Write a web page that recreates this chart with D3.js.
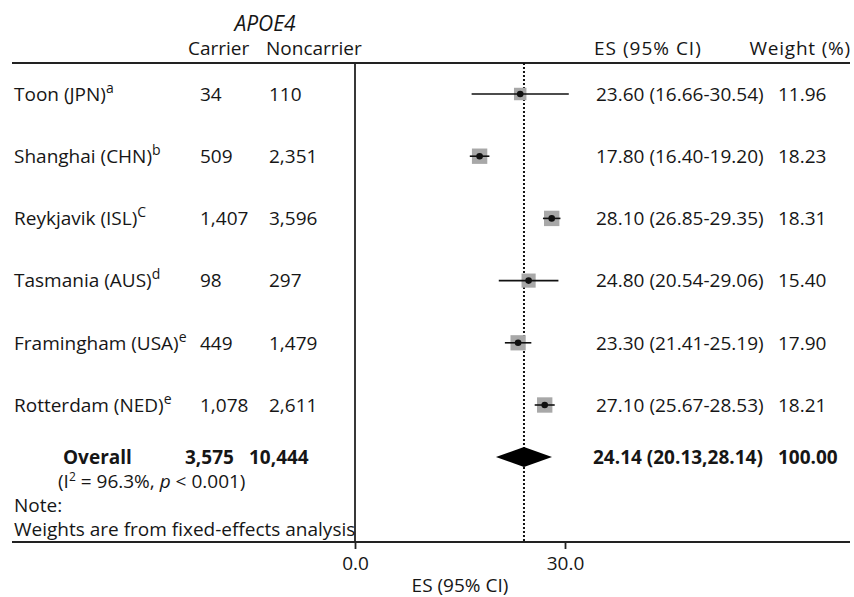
<!DOCTYPE html>
<html>
<head>
<meta charset="utf-8">
<script src="https://cdn.jsdelivr.net/npm/d3@7"></script>
<style>
  body { margin: 0; background: #fff; }
  svg text { font-family: "Open Sans", "Noto Sans", sans-serif; fill: #161616; }
</style>
</head>
<body>
<div id="chart"></div>
<script>
// -----------------------------
// Data
// -----------------------------
const studies = ["Toon (JPN)", "Shanghai (CHN)", "Reykjavik (ISL)", "Tasmania (AUS)", "Framingham (USA)", "Rotterdam (NED)"];
const notes = ["a", "b", "C", "d", "e", "e"];
const carriers = ["34", "509", "1,407", "98", "449", "1,078"];
const noncarriers = ["110", "2,351", "3,596", "297", "1,479", "2,611"];
const es = [23.60, 17.80, 28.10, 24.80, 23.30, 27.10];
const lower = [16.66, 16.40, 26.85, 20.54, 21.41, 25.67];
const upper = [30.54, 19.20, 29.35, 29.06, 25.19, 28.53];
const weights = [11.96, 18.23, 18.31, 15.40, 17.90, 18.21];
const overall = { es: 24.14, lo: 20.13, hi: 28.14, carrier: "3,575", noncarrier: "10,444", weight: "100.00" };
const xTicks = [0, 30];

const width = 854, height = 597;
const fs = "19px";
const svg = d3.select("#chart").append("svg")
  .attr("width", width)
  .attr("height", height);

// -----------------------------
// Scales
// -----------------------------
const x = d3.scaleLinear().domain([0, 30]).range([355, 565]);
const y = d3.scaleLinear().domain([0, 5]).range([94, 405]);
const yOverall = 457;
const topY = 63, bottomY = 542;
const side = d3.scaleSqrt().domain([0, 20]).range([0, 16.1]);

// -----------------------------
// Header
// -----------------------------
svg.append("text").attr("x", 265).attr("y", 31).attr("text-anchor", "middle")
  .style("font-style", "italic").style("font-size", "21px").text("APOE4");
svg.append("text").attr("x", 188).attr("y", 55).style("font-size", fs).text("Carrier");
svg.append("text").attr("x", 266).attr("y", 55).style("font-size", fs).text("Noncarrier");
svg.append("text").attr("x", 594).attr("y", 55).style("font-size", fs).style("letter-spacing", "1px").text("ES (95% CI)");
svg.append("text").attr("x", 851).attr("y", 55).attr("text-anchor", "end").style("font-size", fs)
  .style("letter-spacing", "0.8px").text("Weight (%)");

svg.append("line").attr("x1", 12).attr("x2", 850).attr("y1", topY).attr("y2", topY)
  .attr("stroke", "#222").attr("stroke-width", 1.8);

// -----------------------------
// Axis
// -----------------------------
const axis = svg.append("g").attr("transform", `translate(0,${bottomY})`)
  .call(d3.axisBottom(x).tickValues(xTicks).tickFormat(d3.format(".1f")).tickSize(7).tickSizeOuter(0));
axis.select(".domain").remove();
axis.selectAll(".tick line").attr("stroke", "#222").attr("stroke-width", 1.8);
axis.selectAll(".tick text").attr("y", 15).style("font-size", fs)
  .style("font-family", "'Open Sans', sans-serif").attr("fill", "#161616");
svg.append("line").attr("x1", 12).attr("x2", 850).attr("y1", bottomY).attr("y2", bottomY)
  .attr("stroke", "#222").attr("stroke-width", 1.8);
svg.append("text").attr("x", (x(0) + x(30)) / 2).attr("y", 592).attr("text-anchor", "middle")
  .style("font-size", fs).text("ES (95% CI)");

// null line (x = 0)
svg.append("line").attr("x1", x(0)).attr("x2", x(0)).attr("y1", topY).attr("y2", bottomY)
  .attr("stroke", "#222").attr("stroke-width", 1.8);

// overall dotted line
svg.append("line").attr("x1", x(overall.es)).attr("x2", x(overall.es)).attr("y1", topY).attr("y2", bottomY)
  .attr("stroke", "#111").attr("stroke-width", 2).attr("stroke-dasharray", "2,2");

// -----------------------------
// Study rows
// -----------------------------
const rows = studies.map((s, i) => ({ s, i, note: notes[i], c: carriers[i], n: noncarriers[i],
  es: es[i], lo: lower[i], hi: upper[i], w: weights[i] }));

const row = svg.selectAll("g.row").data(rows).join("g").attr("class", "row");

const txt = (sel, xPos) => sel.append("text").attr("x", xPos).attr("y", d => y(d.i))
  .attr("dy", "0.36em").style("font-size", fs);

const label = txt(row, 14);
label.append("tspan").text(d => d.s);
label.append("tspan").attr("dy", "-8").style("font-size", "14px").text(d => d.note);

txt(row, 200).text(d => d.c);
txt(row, 269).text(d => d.n);
txt(row, 596).text(d => `${d.es.toFixed(2)} (${d.lo.toFixed(2)}-${d.hi.toFixed(2)})`);
txt(row, 778).text(d => d.w.toFixed(2));

row.append("rect")
  .attr("x", d => x(d.es) - side(d.w) / 2)
  .attr("y", d => y(d.i) - side(d.w) / 2)
  .attr("width", d => side(d.w))
  .attr("height", d => side(d.w))
  .attr("fill", "#a8a8a8");
row.append("line")
  .attr("x1", d => x(d.lo)).attr("x2", d => x(d.hi))
  .attr("y1", d => y(d.i)).attr("y2", d => y(d.i))
  .attr("stroke", "#111").attr("stroke-width", 1.6);
row.append("circle")
  .attr("cx", d => x(d.es)).attr("cy", d => y(d.i)).attr("r", 3.3).attr("fill", "#111");

// -----------------------------
// Overall row
// -----------------------------
const bold = sel => sel.attr("y", yOverall).attr("dy", "0.36em").style("font-size", fs).style("font-weight", "bold");
svg.append("text").attr("x", 63).call(bold).text("Overall");
svg.append("text").attr("x", 185).call(bold).text(overall.carrier);
svg.append("text").attr("x", 249).call(bold).text(overall.noncarrier);
svg.append("text").attr("x", 593).call(bold)
  .text(`${overall.es.toFixed(2)} (${overall.lo.toFixed(2)},${overall.hi.toFixed(2)})`);
svg.append("text").attr("x", 778).call(bold).text(overall.weight);

svg.append("path")
  .attr("d", `M${x(overall.lo)},${yOverall} L${x(overall.es)},${yOverall - 10} L${x(overall.hi)},${yOverall} L${x(overall.es)},${yOverall + 10} Z`)
  .attr("fill", "#000");

const het = svg.append("text").attr("x", 58).attr("y", 488).style("font-size", fs);
het.append("tspan").text("(I");
het.append("tspan").attr("dy", "-7").style("font-size", "12px").text("2");
het.append("tspan").attr("dy", "7").text(" = 96.3%, ");
het.append("tspan").style("font-style", "italic").text("p");
het.append("tspan").text(" < 0.001)");

svg.append("text").attr("x", 14).attr("y", 512).style("font-size", fs).text("Note:");
svg.append("text").attr("x", 14).attr("y", 536).style("font-size", fs)
  .text("Weights are from fixed-effects analysis");
</script>
</body>
</html>
